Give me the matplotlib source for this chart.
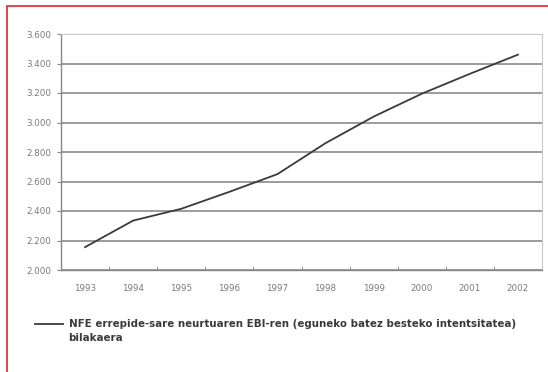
import matplotlib
matplotlib.use("Agg")
import matplotlib.pyplot as plt
from matplotlib.patches import Rectangle
from matplotlib.ticker import FuncFormatter

years = ["1993", "1994", "1995", "1996", "1997", "1998", "1999", "2000", "2001", "2002"]
values = [2155, 2335, 2415, 2530, 2650, 2860, 3040, 3195, 3330, 3460]
yticks = [2000, 2200, 2400, 2600, 2800, 3000, 3200, 3400, 3600]
legend_line1 = "NFE errepide-sare neurtuaren EBI-ren (eguneko batez besteko intentsitatea)"
legend_line2 = "bilakaera"

W, H = 548, 372
fig = plt.figure(figsize=(W / 100, H / 100), dpi=100)
fig.patch.set_facecolor("white")

# red outer frame
fig.patches.append(Rectangle((7 / W, -0.05), 1.2, (H - 6) / H + 0.05,
                             transform=fig.transFigure, fill=False,
                             edgecolor="#e8343a", linewidth=1.3))

left, right, top, bottom = 61, 542, 34, 270
ax = fig.add_axes([left / W, 1 - bottom / H, (right - left) / W, (bottom - top) / H])

x = list(range(len(years)))
line, = ax.plot(x, values, color="#3a3a3a", linewidth=1.3, label=legend_line1)

ax.set_xlim(-0.5, len(years) - 0.5)
ax.set_ylim(2000, 3600)
ax.set_yticks(yticks)
ax.yaxis.set_major_formatter(FuncFormatter(lambda v, p: f"{int(v):,}".replace(",", ".")))
ax.set_xticks(x)
ax.set_xticklabels(years)
ax.set_xticks([i + 0.5 for i in range(-1, len(years))], minor=True)
ax.tick_params(axis="x", which="major", length=0, pad=10, labelsize=6.3, labelcolor="#7a7a7a")
ax.tick_params(axis="x", which="minor", length=3, color="#888888", direction="in")
ax.tick_params(axis="y", length=3, color="#888888", direction="out", labelsize=6.3,
               labelcolor="#7a7a7a", pad=4)

ax.grid(axis="y", color="#8a8a8a", linewidth=1.2)
ax.set_axisbelow(True)
for s in ["top", "right"]:
    ax.spines[s].set_color("#c8c8c8")
    ax.spines[s].set_linewidth(0.8)
for s in ["left", "bottom"]:
    ax.spines[s].set_color("#888888")
    ax.spines[s].set_linewidth(1.0)

leg = fig.legend(handles=[line], labels=[legend_line1], loc="upper left",
                 bbox_to_anchor=(31 / W, 1 - 315 / H), frameon=False,
                 handlelength=2.75, handletextpad=0.5, borderaxespad=0,
                 prop={"weight": "bold", "size": 7.4})
for t in leg.get_texts():
    t.set_color("#3a3a3a")

fig.text(68 / W, 1 - 338 / H, legend_line2, fontsize=7.4, fontweight="bold",
         color="#3a3a3a", ha="left", va="center")

fig.savefig("out.png", dpi=100)
